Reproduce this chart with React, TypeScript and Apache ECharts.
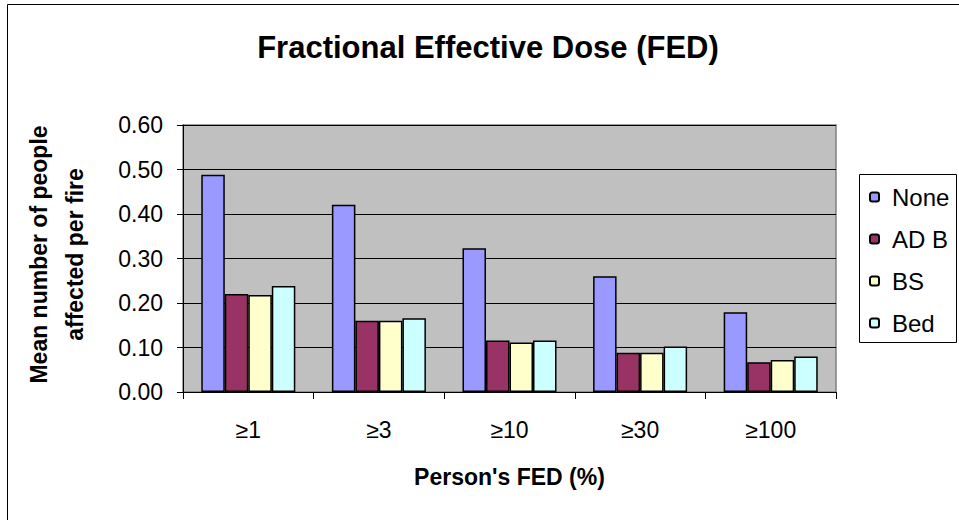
import React, { useEffect, useRef } from "react";
import * as echarts from "echarts";

const categories = ["≥1", "≥3", "≥10", "≥30", "≥100"];
const seriesNames = ["None", "AD B", "BS", "Bed"];
const noneValues = [0.488, 0.421, 0.323, 0.26, 0.179];
const adbValues = [0.22, 0.16, 0.116, 0.088, 0.067];
const bsValues = [0.218, 0.16, 0.111, 0.088, 0.072];
const bedValues = [0.238, 0.166, 0.116, 0.102, 0.08];
const seriesColors = ["#9999FF", "#993366", "#FFFFCC", "#CCFFFF"];

const FONT = '"Liberation Sans", Arial, sans-serif';

export default function App() {
  const ref = useRef<HTMLDivElement>(null);
  useEffect(() => {
    if (!ref.current) return;
    const chart = echarts.init(ref.current, null, { renderer: "svg" });
    const values = [noneValues, adbValues, bsValues, bedValues];
    const option: any = {
      animation: false,
      backgroundColor: "#ffffff",
      textStyle: { fontFamily: FONT, color: "#000" },
      title: {
        text: "Fractional Effective Dose (FED)",
        left: 483,
        textAlign: "center",
        top: 27,
        textStyle: { fontFamily: FONT, fontSize: 31, fontWeight: "bold", color: "#000" },
      },
      graphic: [
        {
          type: "rect",
          z: -10,
          shape: { x: 7.5, y: 4.5, width: 1000, height: 1000 },
          style: { fill: "none", stroke: "#000", lineWidth: 1 },
        },
        {
          type: "rect",
          shape: { x: 859.5, y: 174.5, width: 97, height: 168 },
          style: { fill: "#fff", stroke: "#000", lineWidth: 1 },
          z: 0,
        },
      ],
      legend: {
        orient: "vertical",
        left: 869,
        top: 185,
        itemWidth: 9,
        itemHeight: 9,
        itemGap: 18,
        padding: 0,
        z: 5,
        textStyle: { fontFamily: FONT, fontSize: 24, color: "#000", lineHeight: 24, padding: [0, 0, 0, 8] },
        data: seriesNames,
      },
      grid: {
        left: 183,
        top: 125,
        right: 123,
        bottom: 128,
        show: true,
        backgroundColor: "#C0C0C0",
        borderColor: "#808080",
        borderWidth: 1.5,
      },
      xAxis: {
        type: "category",
        data: categories,
        name: "Person's FED (%)",
        nameLocation: "middle",
        nameGap: 73,
        nameTextStyle: { fontFamily: FONT, fontSize: 23, fontWeight: "bold", color: "#000" },
        axisLine: { lineStyle: { color: "#000", width: 1 } },
        axisTick: { show: true, length: 7, lineStyle: { color: "#000" } },
        axisLabel: { fontFamily: FONT, fontSize: 23, color: "#000", margin: 26 },
      },
      yAxis: {
        type: "value",
        min: 0,
        max: 0.6,
        interval: 0.1,
        name: "Mean number of people\naffected per fire",
        nameLocation: "middle",
        nameGap: 90,
        nameRotate: 90,
        nameTextStyle: {
          fontFamily: FONT,
          fontSize: 23,
          fontWeight: "bold",
          color: "#000",
          lineHeight: 36,
          padding: [0, 0, 0, 8],
        },
        axisLine: { show: true, lineStyle: { color: "#000", width: 1 } },
        axisTick: { show: true, length: 6, lineStyle: { color: "#000" } },
        axisLabel: {
          fontFamily: FONT,
          fontSize: 23,
          color: "#000",
          margin: 20,
          formatter: (v: number) => v.toFixed(2),
        },
        splitLine: { show: true, lineStyle: { color: "#000", width: 1 } },
      },
      series: seriesNames.map((name, i) => ({
        name,
        type: "bar",
        data: values[i],
        barGap: "0%",
        barCategoryGap: "28%",
        itemStyle: { color: seriesColors[i], borderColor: "#000", borderWidth: 1.5 },
      })),
    };
    chart.setOption(option);
    return () => chart.dispose();
  }, []);
  return (
    <div
      ref={ref}
      style={{ position: "absolute", left: 0, top: 0, width: 959, height: 520, background: "#fff" }}
    />
  );
}
